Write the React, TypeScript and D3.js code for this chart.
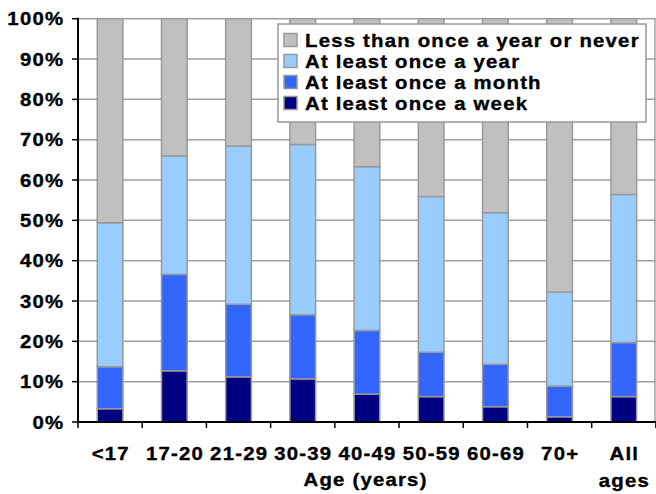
import React from "react";
import * as d3 from "d3";

// Age bands along the x axis
const categories = ["<17", "17-20", "21-29", "30-39", "40-49", "50-59", "60-69", "70+", "All ages"];

// Share of respondents (%) in each frequency band, bottom to top of the stack
const atLeastWeekly = [3.3, 12.7, 11.2, 10.7, 6.9, 6.3, 3.8, 1.3, 6.3];
const atLeastMonthly = [10.4, 23.9, 18.0, 15.9, 15.8, 11.0, 10.5, 7.6, 13.4];
const atLeastYearly = [35.7, 29.4, 39.2, 42.2, 40.6, 38.6, 37.6, 23.3, 36.7];
const lessThanYearly = [50.6, 34.0, 31.6, 31.2, 36.7, 44.1, 48.1, 67.8, 43.6];

const seriesKeys = ["week", "month", "year", "never"];
const seriesLabels = [
  "At least once a week",
  "At least once a month",
  "At least once a year",
  "Less than once a year or never",
];
const seriesColors = ["#000080", "#3366ff", "#99ccff", "#c0c0c0"];

const yTicks = [0, 10, 20, 30, 40, 50, 60, 70, 80, 90, 100];
const xTitle = "Age (years)";

const W = 656;
const H = 494;
const plot = { left: 78, right: 655.9, top: 18.7, bottom: 422 };
const FONT = "'Liberation Sans', Arial, Helvetica, sans-serif";
const SPACING = 1.1;
const STRETCH = 1.1;
const textStyle: React.CSSProperties = {
  fontFamily: FONT,
  fontWeight: 700,
  fontSize: 18.5,
  letterSpacing: SPACING,
};

// Bold label, slightly widened horizontally
function Label({
  x,
  y,
  anchor = "start",
  dy,
  children,
}: {
  x: number;
  y: number;
  anchor?: "start" | "middle" | "end";
  dy?: string;
  children: React.ReactNode;
}) {
  const shift = anchor === "end" ? SPACING : anchor === "middle" ? SPACING / 2 : 0;
  return (
    <text
      transform={`translate(${x},${y}) scale(${STRETCH},1)`}
      x={shift}
      dy={dy}
      textAnchor={anchor}
      fill="#000"
      stroke="#000"
      strokeWidth={0.35}
      style={textStyle}
    >
      {children}
    </text>
  );
}

export default function App() {
  const rows = categories.map((c, i) => ({
    cat: c,
    week: atLeastWeekly[i],
    month: atLeastMonthly[i],
    year: atLeastYearly[i],
    never: lessThanYearly[i],
  }));
  const stacked = d3.stack<any>().keys(seriesKeys)(rows);

  const x = d3
    .scaleBand<string>()
    .domain(categories)
    .range([plot.left, plot.right])
    .paddingInner(0.6)
    .paddingOuter(0.3);
  const y = d3.scaleLinear().domain([0, 100]).range([plot.bottom, plot.top]);
  const step = x.step();
  const boundaries = d3.range(categories.length + 1).map((i) => plot.left + i * step);

  const legendOrder = [3, 2, 1, 0];
  const legend = { x: 278, y: 24, w: 368, h: 98, rowH: 21 };

  return (
    <svg
      width={W}
      height={H}
      style={{ position: "absolute", left: 0, top: 0, background: "#fff" }}
    >
      {/* grid */}
      {yTicks.map((t) => (
        <line
          key={"g" + t}
          x1={plot.left}
          x2={plot.right}
          y1={y(t)}
          y2={y(t)}
          stroke="#a0a0a0"
          strokeWidth={1.5}
        />
      ))}
      <line x1={plot.right - 1} x2={plot.right - 1} y1={plot.top} y2={plot.bottom} stroke="#a0a0a0" strokeWidth={1.5} />

      {/* stacked bars */}
      {stacked.map((layer, si) =>
        layer.map((d, i) => (
          <rect
            key={si + "-" + i}
            x={x(categories[i])!}
            width={x.bandwidth()}
            y={y(d[1])}
            height={y(d[0]) - y(d[1])}
            fill={seriesColors[si]}
            stroke="#999"
            strokeWidth={1.5}
          />
        ))
      )}

      {/* y axis */}
      <line x1={plot.left} x2={plot.left} y1={plot.top - 1} y2={plot.bottom} stroke="#000" strokeWidth={2} />
      {yTicks.map((t) => (
        <g key={"yt" + t}>
          <line x1={plot.left - 6} x2={plot.left} y1={y(t)} y2={y(t)} stroke="#000" strokeWidth={1.5} />
          <Label x={63} y={y(t)} dy="0.36em" anchor="end">
            {t + "%"}
          </Label>
        </g>
      ))}

      {/* x axis */}
      <line x1={plot.left - 1} x2={plot.right} y1={plot.bottom} y2={plot.bottom} stroke="#000" strokeWidth={2} />
      {boundaries.map((bx, i) => (
        <line key={"xt" + i} x1={bx} x2={bx} y1={plot.bottom} y2={plot.bottom + 6} stroke="#000" strokeWidth={1.5} />
      ))}
      {categories.map((c) => {
        const cx = x(c)! + x.bandwidth() / 2;
        const lines = c === "All ages" ? ["All", "ages"] : [c];
        return (
          <g key={"xl" + c}>
            {lines.map((l, li) => (
              <Label key={li} x={cx} y={460 + li * 27} anchor="middle">
                {l}
              </Label>
            ))}
          </g>
        );
      })}
      <Label x={(plot.left + plot.right) / 2 - 2} y={486} anchor="middle">
        {xTitle}
      </Label>

      {/* legend */}
      <rect
        x={legend.x}
        y={legend.y}
        width={legend.w}
        height={legend.h}
        fill="#fff"
        stroke="#999"
        strokeWidth={1.5}
      />
      {legendOrder.map((si, row) => {
        const cy = legend.y + 16 + row * legend.rowH;
        return (
          <g key={"lg" + si}>
            <rect
              x={284}
              y={cy - 6.5}
              width={13}
              height={13}
              fill={seriesColors[si]}
              stroke="#999"
              strokeWidth={1.5}
            />
            <Label x={305} y={cy + 7}>
              {seriesLabels[si]}
            </Label>
          </g>
        );
      })}
    </svg>
  );
}
